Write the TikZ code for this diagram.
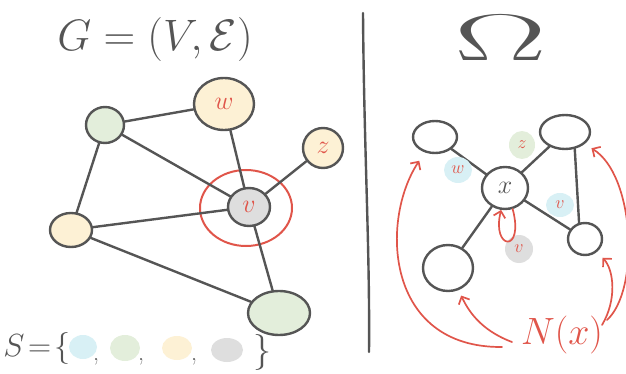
\RequirePackage{fix-cm}
\documentclass[tikz,border=0pt]{standalone}
\usetikzlibrary{shapes.geometric,arrows.meta}
\definecolor{ink}{HTML}{555555}
\definecolor{redc}{HTML}{E0554A}
\definecolor{blueb}{HTML}{D8F0F5}
\definecolor{greenb}{HTML}{E3EEDB}
\definecolor{yellowb}{HTML}{FDF1D5}
\definecolor{grayb}{HTML}{DEDEDE}
\begin{document}
\begin{tikzpicture}[x=1pt,y=-1pt,
  vtx/.style={ellipse,draw=ink,line width=2.4pt,inner sep=0pt},
  edge/.style={draw=ink,line width=2.4pt,line cap=round},
  redarrow/.style={draw=redc,line width=1.7pt,line cap=round,-{Straight Barb[length=6pt,width=12pt]}},
  lbl/.style={text=redc,font=\fontsize{26}{26}\selectfont},
  blob/.style={ellipse,inner sep=0pt,text=redc,font=\fontsize{18}{18}\selectfont},
  big/.style={font=\fontsize{44}{44}\selectfont,text=ink},
]
\useasboundingbox (0,0) rectangle (626,374);
% ---------- left panel ----------
\node[big] (title) at (155,40) {$G=(V,\mathcal{E})$};
\node[vtx,fill=greenb,minimum width=38pt,minimum height=36pt] (a) at (105,125) {};
\node[vtx,fill=yellowb,minimum width=60pt,minimum height=52pt,lbl] (w) at (224,104) {$w$};
\node[vtx,fill=yellowb,minimum width=40pt,minimum height=40pt,lbl] (z) at (323,148) {$z$};
\node[vtx,fill=grayb,minimum width=42pt,minimum height=38pt,lbl] (v) at (249,207) {$v$};
\node[vtx,fill=yellowb,minimum width=42pt,minimum height=34pt] (y) at (71,230) {};
\node[vtx,fill=greenb,minimum width=62pt,minimum height=44pt] (b) at (279,313) {};
\node[ellipse,draw=redc,line width=2pt,minimum width=92pt,minimum height=76pt] (ring) at (246,208) {};
\draw[edge] (a) -- (w);
\draw[edge] (a) -- (v);
\draw[edge] (a) -- (y);
\draw[edge] (w) -- (v);
\draw[edge] (z) -- (v);
\draw[edge] (y) -- (v);
\draw[edge] (y) -- (b);
\draw[edge] (v) -- (b);
% set S
\node[font=\fontsize{32}{32}\selectfont,text=ink,inner sep=1pt] (S) at (37,348) {$S\!=\!\{$};
\node[blob,fill=blueb,minimum width=28pt,minimum height=24pt] (s1) at (83,347) {};
\node[blob,fill=greenb,minimum width=30pt,minimum height=26pt] (s2) at (125,348) {};
\node[blob,fill=yellowb,minimum width=30pt,minimum height=24pt] (s3) at (177,348) {};
\node[blob,fill=grayb,minimum width=32pt,minimum height=24pt] (s4) at (227,350) {};
\node[font=\fontsize{24}{24}\selectfont,text=ink] (c1) at (96,362) {,};
\node[font=\fontsize{24}{24}\selectfont,text=ink] (c2) at (141,362) {,};
\node[font=\fontsize{24}{24}\selectfont,text=ink] (c3) at (194,362) {,};
\node[font=\fontsize{36}{36}\selectfont,text=ink] (cb) at (262,352) {$\}$};
% divider
\draw[edge] (363,13) .. controls (364,150) and (370,250) .. (369,352);
% ---------- right panel ----------
\node[text=ink] (omega) at (501,38) {\scalebox{2.1}[1]{\fontsize{66}{66}\selectfont$\Omega$}};
\node[vtx,minimum width=44pt,minimum height=32pt] (tl) at (435,137) {};
\node[vtx,minimum width=50pt,minimum height=34pt] (tr) at (565,132) {};
\node[vtx,minimum width=46pt,minimum height=42pt,font=\fontsize{26}{26}\selectfont,text=ink] (x) at (505,188) {$x$};
\node[vtx,minimum width=50pt,minimum height=46pt] (bl) at (448,268) {};
\node[vtx,minimum width=34pt,minimum height=32pt] (br) at (585,239) {};
\draw[edge] (x) -- (tl);
\draw[edge] (x) -- (tr);
\draw[edge] (x) -- (bl);
\draw[edge] (x) -- (br);
\draw[edge] (tr.-60) -- (br.110);
\node[blob,fill=blueb,minimum width=28pt,minimum height=26pt] (lw) at (458,170) {$w$};
\node[blob,fill=greenb,minimum width=26pt,minimum height=28pt] (lz) at (522,145) {$z$};
\node[blob,fill=blueb,minimum width=28pt,minimum height=24pt] (lv) at (560,205) {$v$};
\node[blob,fill=grayb,minimum width=28pt,minimum height=28pt] (lv2) at (519,249) {$v$};
\draw[redarrow] (x.-70) .. controls +(12,45) and +(-10,40) .. (x.-100);
% N(x)
\node[text=redc,font=\fontsize{38}{38}\selectfont] (N) at (562,335) {$N(x)$};
\coordinate (p1) at (502,347);
\coordinate (p2) at (512,342);
\coordinate (p3) at (602,325);
\coordinate (p4) at (607,320);
\draw[redarrow,shorten >=10pt] (p1) .. controls (385,348) and (380,220) .. (tl);
\draw[redarrow,shorten >=6pt] (p2) .. controls (480,330) and (468,310) .. (bl);
\draw[redarrow,shorten >=8pt] (p3) .. controls (617,300) and (614,270) .. (br);
\draw[redarrow,shorten >=8pt] (p4) .. controls (640,290) and (635,175) .. (tr);
\end{tikzpicture}
\end{document}
